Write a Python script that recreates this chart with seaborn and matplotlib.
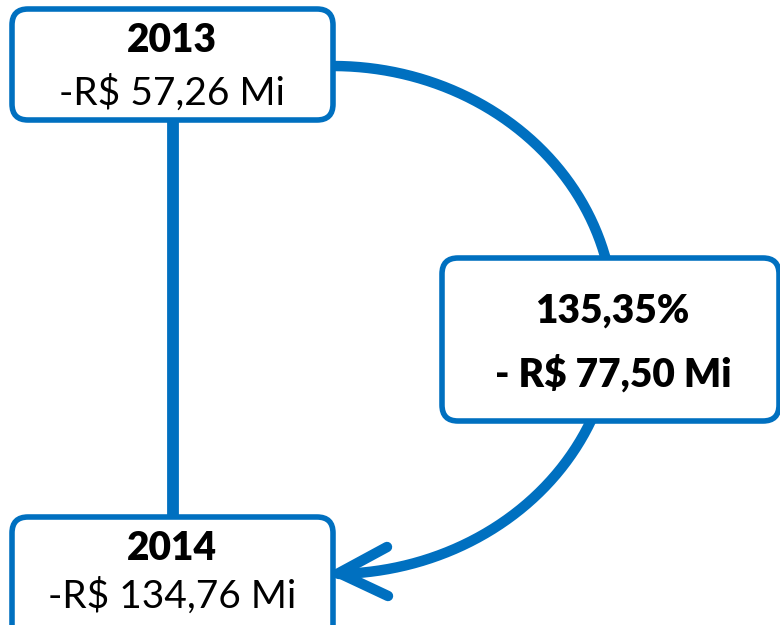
import numpy as np
import matplotlib
matplotlib.use("Agg")
import matplotlib.pyplot as plt
import seaborn as sns
from matplotlib.patches import FancyBboxPatch

sns.set_style("white")
plt.rcParams['font.family'] = ['Lato', 'DejaVu Sans']

# diagram content
years = ['2013', '2014']
values = ['-R$ 57,26 Mi', '-R$ 134,76 Mi']
change_pct = '135,35%'
change_value = '- R$ 77,50 Mi'

BLUE = '#0070C0'

fig = plt.figure(figsize=(7.8, 6.25), dpi=100)
ax = fig.add_axes([0, 0, 1, 1])
ax.set_xlim(0, 780)
ax.set_ylim(625, 0)
ax.axis('off')


def box(x0, y0, x1, y1):
    p = FancyBboxPatch((x0, y0), x1 - x0, y1 - y0,
                       boxstyle='round,pad=0,rounding_size=16',
                       facecolor='white', edgecolor=BLUE, linewidth=4, zorder=3)
    ax.add_patch(p)


# vertical connector between the year boxes
ax.plot([173, 173], [118, 520], color=BLUE, linewidth=8.5, zorder=1, solid_capstyle='butt')

# curved arrow from 2013 to 2014 (elliptical arc)
cx, cy, rx, ry = 333, 320, 281, 254
t = np.linspace(-np.pi / 2, np.pi / 2 - 0.02, 300)
ax.plot(cx + rx * np.cos(t), cy + ry * np.sin(t), color=BLUE, linewidth=7.5,
        zorder=1, solid_capstyle='round')
# arrow head
ax.plot([387, 339, 388], [547, 573, 596], color=BLUE, linewidth=7.5, zorder=1,
        solid_capstyle='round', solid_joinstyle='miter')

# boxes
box(12, 9, 333, 120)
box(12, 517, 333, 660)
box(442, 258, 779, 421)

# texts
kw = dict(ha='center', va='center', fontsize=28, color='black', zorder=4)
ax.text(172, 41, years[0], fontweight='heavy', **kw)
ax.text(172, 93, values[0], **kw)
ax.text(172, 548, years[1], fontweight='heavy', **kw)
ax.text(172, 596, values[1], **kw)
ax.text(612, 311, change_pct, fontweight='heavy', **kw)
ax.text(613, 374, change_value, fontweight='heavy', **kw)

fig.savefig('out.png', dpi=100)
